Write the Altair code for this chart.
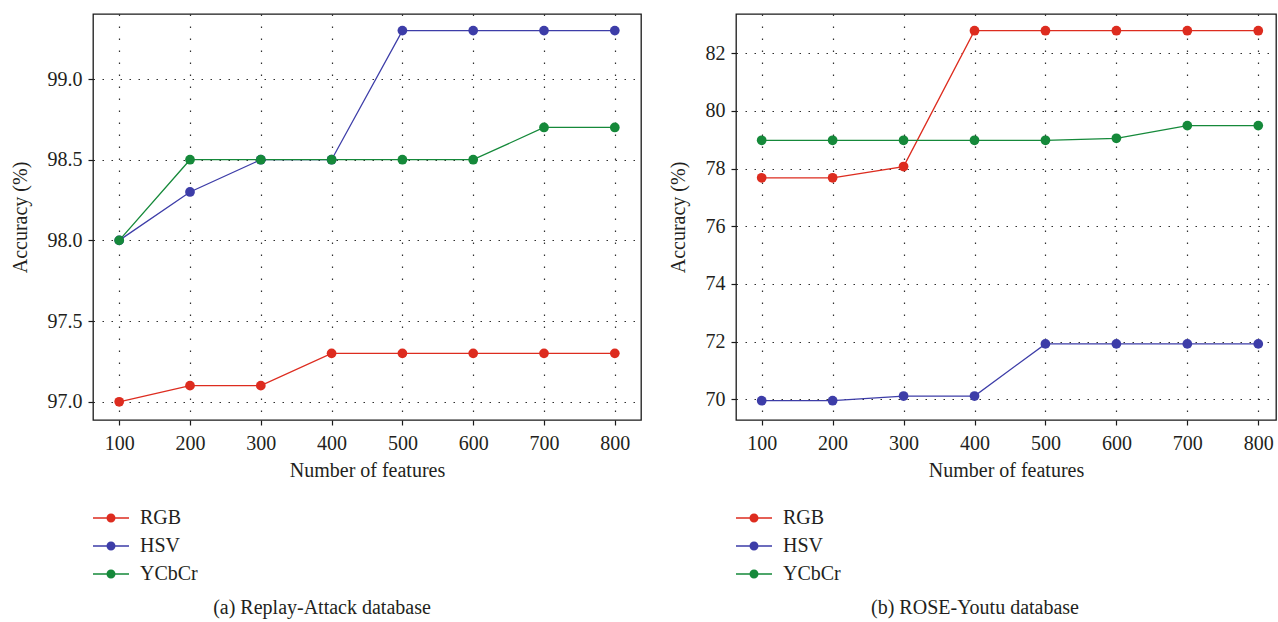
import altair as alt
import pandas as pd

features = [100, 200, 300, 400, 500, 600, 700, 800]
series = ["RGB", "HSV", "YCbCr"]
colors = ["#dd2c1f", "#3d3da8", "#15893a"]

# (a) Replay-Attack database
ra_rgb = [97.0, 97.1, 97.1, 97.3, 97.3, 97.3, 97.3, 97.3]
ra_hsv = [98.0, 98.3, 98.5, 98.5, 99.3, 99.3, 99.3, 99.3]
ra_ycbcr = [98.0, 98.5, 98.5, 98.5, 98.5, 98.5, 98.7, 98.7]
ra_yticks = [97.0, 97.5, 98.0, 98.5, 99.0]

# (b) ROSE-Youtu database
ry_rgb = [77.68, 77.68, 78.07, 82.78, 82.78, 82.78, 82.78, 82.78]
ry_hsv = [69.95, 69.95, 70.11, 70.11, 71.92, 71.92, 71.92, 71.92]
ry_ycbcr = [78.98, 78.98, 78.98, 78.98, 78.98, 79.05, 79.49, 79.49]
ry_yticks = [70, 72, 74, 76, 78, 80, 82]

FONT = "Liberation Serif"
TXT = "#231f20"
LEG_SYMBOL = "M-2,-0.07H2V0.07H-2Z M0.5,0A0.5,0.5 0 1 1 -0.5,0A0.5,0.5 0 1 1 0.5,0Z"


def make_df(rgb, hsv, ycbcr):
    rows = []
    for name, vals in zip(series, [rgb, hsv, ycbcr]):
        for f, v in zip(features, vals):
            rows.append({"features": f, "acc": v, "series": name})
    return pd.DataFrame(rows)


def panel(df, xdomain, ydomain, yticks, yfmt, width, caption, cap_dx, leg_x):
    x = alt.X(
        "features:Q",
        scale=alt.Scale(domain=xdomain, nice=False, zero=False),
        axis=alt.Axis(values=features, title="Number of features", format="d",
                      gridDash=[1.5, 10.5]),
    )
    y = alt.Y(
        "acc:Q",
        scale=alt.Scale(domain=ydomain, nice=False, zero=False),
        axis=alt.Axis(values=yticks, format=yfmt, title="Accuracy (%)",
                      gridDash=[1.5, 7.5]),
    )
    line = alt.Chart(df).mark_line(strokeWidth=1.3).encode(
        x=x, y=y,
        color=alt.Color("series:N", scale=alt.Scale(domain=series, range=colors),
                        sort=series, legend=None),
    )
    pts = alt.Chart(df).mark_circle(size=95, opacity=1).encode(
        x=x, y=y,
        color=alt.Color(
            "series:N", scale=alt.Scale(domain=series, range=colors), sort=series,
            legend=alt.Legend(
                orient="none", legendX=leg_x, legendY=494, title=None,
                symbolType=LEG_SYMBOL, symbolSize=324, symbolStrokeWidth=0,
                symbolOpacity=1,
                labelFont=FONT, labelFontSize=20, labelColor=TXT,
                labelOffset=19, rowPadding=8, padding=0,
            ),
        ),
    )
    return alt.layer(line, pts).resolve_scale(color="independent").resolve_legend(
        color="independent"
    ).properties(
        width=width, height=406,
        title=alt.Title(caption, orient="bottom", anchor="middle", frame="group",
                        font=FONT, fontSize=20, fontWeight="normal", color=TXT,
                        dx=cap_dx, offset=14),
    )


left = panel(make_df(ra_rgb, ra_hsv, ra_ycbcr), [63, 837], [96.887, 99.403],
             ra_yticks, ".1f", 548, "(a) Replay-Attack database", -45, 8)
right = panel(make_df(ry_rgb, ry_hsv, ry_ycbcr), [63.8, 825], [69.28, 83.36],
              ry_yticks, "d", 540, "(b) ROSE-Youtu database", -31, 8)

chart = alt.hconcat(left, right, spacing=25).resolve_scale(
    color="independent"
).resolve_legend(color="independent").properties(
    padding={"left": 9, "top": 13, "right": 0, "bottom": 0},
    background="white",
).configure_view(
    stroke="#1a1a1a", strokeWidth=1.3
).configure_axis(
    labelFont=FONT, labelFontSize=20, labelColor=TXT,
    titleFont=FONT, titleFontSize=20, titleColor=TXT, titleFontWeight="normal",
    domain=False, tickColor="#1a1a1a", tickSize=5, tickWidth=1.2,
    grid=True, gridColor="#1a1a1a", gridWidth=1.2, gridOpacity=0.9,
).configure_axisX(
    labelPadding=8, titlePadding=7,
).configure_axisY(
    labelPadding=6, titlePadding=17,
)

chart.save("out.html", embed_options={"renderer": "svg", "actions": False})
